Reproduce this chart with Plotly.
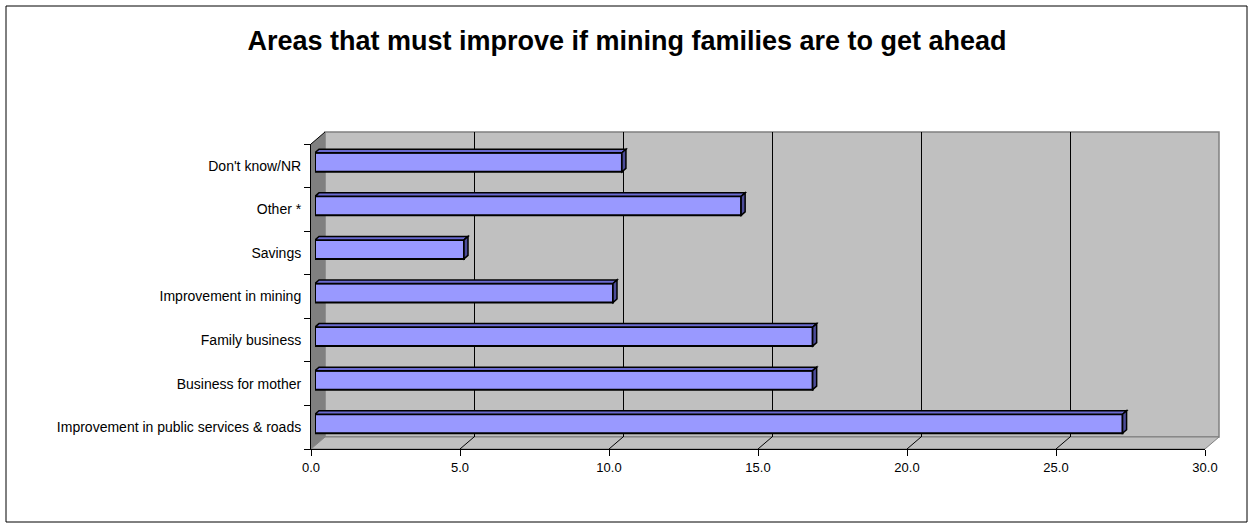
import plotly.graph_objects as go

# ---- data -------------------------------------------------------------
categories = [
    "Improvement in public services & roads",
    "Business for mother",
    "Family business",
    "Improvement in mining",
    "Savings",
    "Other *",
    "Don't know/NR",
]
values = [27.1, 16.7, 16.7, 10.0, 5.0, 14.3, 10.3]
x_ticks = [0, 5, 10, 15, 20, 25, 30]
title_text = "Areas that must improve if mining families are to get ahead"

# ---- geometry (pixels) ------------------------------------------------
W, H = 1254, 529
L, R, T, B = 311, 1219, 132, 449          # whole 3-D box incl. depth
PW, PH = R - L, B - T
DX, DY = 14, 12                            # wall depth offset
BX, BY = 4, 3.5                            # bar plane offset from front
BDX, BDY = 4, 3.5                          # bar thickness (depth)

n = len(categories)
front_w = PW - DX
band = (PH - DY) / n
x_max = x_ticks[-1]
unit = front_w / x_max                     # pixels per data unit
bar_h = 19
bar_width = bar_h / band
half = bar_h / 2

FRONT = "#9999FF"
TOP = "#6A6AD0"
SIDE = "#4C4C99"
WALL = "#C0C0C0"
SIDEWALL = "#808080"
FONT = "Arial, Liberation Sans, sans-serif"


def fx(px):
    return (px - L) / PW


def fy(py):
    return (B - py) / PH


def poly(points):
    return "M " + " L ".join(f"{fx(x):.5f},{fy(y):.5f}" for x, y in points) + " Z"


fig = go.Figure()

# empty traces so the wall and front-axis subplots get drawn
fig.add_trace(go.Scatter(x=[None], y=[None], xaxis="x", yaxis="y",
                         mode="markers", hoverinfo="skip", showlegend=False))
fig.add_trace(go.Scatter(x=[None], y=[None], xaxis="x3", yaxis="y3",
                         mode="markers", hoverinfo="skip", showlegend=False))

fig.add_trace(go.Bar(
    x=values,
    y=list(range(n)),
    orientation="h",
    width=bar_width,
    xaxis="x2",
    yaxis="y2",
    marker=dict(color=FRONT, line=dict(color="black", width=2)),
    hovertext=categories,
    hoverinfo="text+x",
    showlegend=False,
))

shapes = []

# back wall, floor and left wall
shapes.append(dict(type="rect", xref="paper", yref="paper", layer="below",
                   x0=fx(L + DX), x1=fx(R), y0=fy(B - DY), y1=fy(T),
                   fillcolor=WALL, line=dict(color=SIDEWALL, width=1.5)))
shapes.append(dict(type="path", xref="paper", yref="paper", layer="below",
                   path=poly([(L, B), (L + DX, B - DY), (R, B - DY), (R - DX, B)]),
                   fillcolor=WALL, line=dict(color=SIDEWALL, width=1)))
shapes.append(dict(type="path", xref="paper", yref="paper", layer="below",
                   path=poly([(L, B), (L, T + DY), (L + DX, T), (L + DX, B - DY)]),
                   fillcolor=SIDEWALL, line=dict(width=0)))
shapes.append(dict(type="line", xref="paper", yref="paper", layer="below",
                   x0=fx(L), y0=fy(T + DY), x1=fx(L + DX), y1=fy(T),
                   line=dict(color="black", width=1)))

# gridline continuations across the floor
for v in x_ticks[1:-1]:
    xf = L + v * unit
    shapes.append(dict(type="line", xref="paper", yref="paper", layer="below",
                       x0=fx(xf), y0=fy(B), x1=fx(xf + DX), y1=fy(B - DY),
                       line=dict(color="black", width=1)))

# bar top and side faces
for i, v in enumerate(values):
    shapes.append(dict(
        type="path", xref="x2", yref="y2", ysizemode="pixel", yanchor=i,
        path=(f"M 0,{half} L {v},{half} L {v + BDX / unit},{half + BDY} "
              f"L {BDX / unit},{half + BDY} Z"),
        fillcolor=TOP, line=dict(color="black", width=1.5)))
    shapes.append(dict(
        type="path", xref="x2", yref="y2", xsizemode="pixel", ysizemode="pixel",
        xanchor=v, yanchor=i,
        path=(f"M 0,{half} L {BDX},{half + BDY} L {BDX},{-half + BDY} "
              f"L 0,{-half} Z"),
        fillcolor=SIDE, line=dict(color="black", width=1.5)))

# outer chart border
shapes.append(dict(type="rect", xref="paper", yref="paper", layer="above",
                   x0=fx(6), x1=fx(1247), y0=fy(522), y1=fy(6),
                   line=dict(color="black", width=1)))

fig.update_layout(
    width=W, height=H,
    margin=dict(l=L, r=W - R, t=T, b=H - B, pad=0),
    paper_bgcolor="white",
    plot_bgcolor="rgba(0,0,0,0)",
    showlegend=False,
    font=dict(family=FONT, size=14, color="black"),
    title=dict(text=title_text, x=0.5, xanchor="center", xref="container",
               y=1 - 41 / H, yanchor="middle", yref="container",
               font=dict(family=FONT, size=27, color="black", weight="bold")),
    # back wall axes (gridlines)
    xaxis=dict(domain=[fx(L + DX), 1], range=[0, x_max], anchor="y",
               tickvals=x_ticks[1:-1], showticklabels=False, ticks="",
               showgrid=True, gridcolor="black", gridwidth=1,
               zeroline=False, showline=False, fixedrange=True),
    yaxis=dict(domain=[fy(B - DY), 1], range=[0, 1], anchor="x",
               showticklabels=False, ticks="", showgrid=False,
               zeroline=False, showline=False, fixedrange=True),
    # bar plane axes
    xaxis2=dict(domain=[fx(L + BX), fx(R - DX + BX)], range=[0, x_max],
                anchor="y2", visible=False, fixedrange=True),
    yaxis2=dict(domain=[fy(B - BY), fy(T + DY - BY)], range=[-0.5, n - 0.5],
                anchor="x2", visible=False, fixedrange=True),
    # front plane axes with ticks and labels
    xaxis3=dict(domain=[0, fx(R - DX)], range=[0, x_max], anchor="y3",
                tickvals=x_ticks, tickformat=".1f", ticks="outside",
                ticklen=6, tickcolor="black", showline=True, linecolor="black",
                linewidth=1, showgrid=False, zeroline=False,
                tickfont=dict(size=13), fixedrange=True),
    yaxis3=dict(domain=[0, fy(T + DY)], range=[-0.5, n - 0.5], anchor="x3",
                tickvals=list(range(n)), ticktext=categories,
                ticks="outside", ticklen=6, tickcolor="rgba(0,0,0,0)",
                minor=dict(tickvals=[i - 0.5 for i in range(n + 1)],
                           ticks="outside", ticklen=6, tickcolor="black"),
                showline=True, linecolor="black", linewidth=1,
                showgrid=False, zeroline=False, tickfont=dict(size=14),
                fixedrange=True),
    shapes=shapes,
)

fig.write_html("out.html")
